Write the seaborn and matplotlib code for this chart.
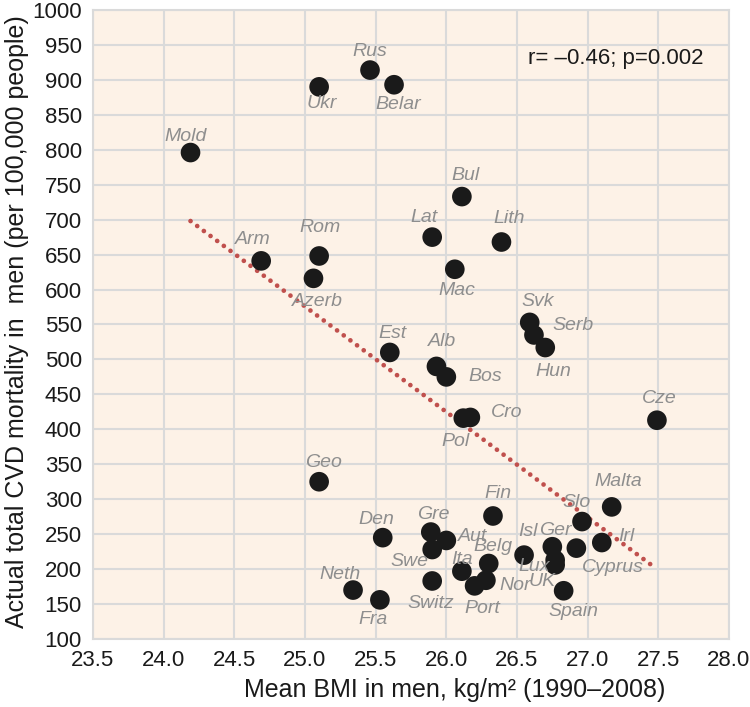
import seaborn as sns
import matplotlib.pyplot as plt
import pandas as pd

# countries, mean BMI in men and total CVD mortality (per 100,000)
countries = ["Mold", "Arm", "Azerb", "Rom", "Ukr", "Geo", "Rus", "Belar",
             "Neth", "Fra", "Den", "Est", "Gre", "Swe", "Switz", "Lat",
             "Alb", "Aut", "Bos", "Mac", "Ita", "Bul", "Pol", "Cro", "Port",
             "Nor", "Belg", "Fin", "Lith", "Isl", "Svk", "Serb", "Hun",
             "Ger", "Lux", "UK", "Spain", "Cyprus", "Slo", "Irl", "Malta",
             "Cze"]
bmi = [24.19, 24.69, 25.06, 25.10, 25.10, 25.10, 25.46, 25.63,
       25.34, 25.53, 25.55, 25.60, 25.89, 25.90, 25.90, 25.90,
       25.93, 26.00, 26.00, 26.06, 26.11, 26.11, 26.12, 26.17, 26.20,
       26.28, 26.30, 26.33, 26.39, 26.55, 26.59, 26.62, 26.70,
       26.75, 26.77, 26.77, 26.83, 26.92, 26.96, 27.10, 27.17,
       27.49]
cvd = [796, 641, 616, 648, 890, 325, 914, 893,
       170, 156, 245, 510, 253, 228, 183, 675,
       490, 241, 475, 629, 197, 733, 416, 417, 176,
       184, 208, 276, 668, 220, 553, 535, 517,
       232, 213, 206, 169, 230, 268, 238, 289,
       413]

# regression line end points
trend_x = [24.19, 27.47]
trend_y = [698, 203]

df = pd.DataFrame({"country": countries, "bmi": bmi, "cvd": cvd})

# label offsets in pixels (dx, dy) relative to each point
offsets = {
    "Mold": (-5, 16), "Arm": (-8, 21), "Azerb": (4, -23), "Rom": (1, 28),
    "Ukr": (3, -17), "Geo": (4, 19), "Rus": (0, 19), "Belar": (4, -20),
    "Neth": (-13, 16), "Fra": (-7, -20), "Den": (-6, 18), "Est": (3, 19),
    "Gre": (2, 18), "Swe": (-23, -12), "Switz": (-1, -23), "Lat": (-8, 20),
    "Alb": (6, 25), "Aut": (26, 4), "Bos": (39, 0), "Mac": (2, -21),
    "Ita": (0, 12), "Bul": (4, 21), "Pol": (-8, -23), "Cro": (36, 5),
    "Port": (8, -23), "Nor": (29, -5), "Belg": (4, 17), "Fin": (5, 22),
    "Lith": (8, 24), "Isl": (4, 24), "Svk": (8, 21), "Serb": (39, 9),
    "Hun": (8, -24), "Ger": (3, 16), "Lux": (-21, -6), "UK": (-13, -17),
    "Spain": (10, -21), "Cyprus": (36, -19), "Slo": (-5, 19), "Irl": (25, 6),
    "Malta": (7, 25), "Cze": (2, 22),
}

sns.set_style("whitegrid", {"axes.facecolor": "#FDF2E7",
                            "grid.color": "#DADADA",
                            "axes.edgecolor": "#DADADA"})
plt.rcParams["font.family"] = ["Liberation Sans", "DejaVu Sans"]

fig = plt.figure(figsize=(7.5, 7.07), dpi=100)
ax = fig.add_axes([0.124, 0.0962, 0.848, 0.8897])

sns.lineplot(x=trend_x, y=trend_y, color="#C0504D", linewidth=3.4,
             linestyle=(0, (0.01, 1.75)), dash_capstyle="round", ax=ax,
             zorder=2)
sns.scatterplot(data=df, x="bmi", y="cvd", s=200, color="#1A1A1A",
                edgecolor="none", ax=ax, zorder=3)

for c, x, y in zip(countries, bmi, cvd):
    dx, dy = offsets[c]
    ax.annotate(c, (x, y), xytext=(dx, dy), textcoords="offset pixels",
                ha="center", va="center", fontsize=14, style="italic",
                color="#8E8E8E", zorder=4)

ax.text(26.578, 930, "r= \u20130.46; p=0.002", fontsize=16, ha="left",
        va="center", color="#1A1A1A")

ax.set_xlim(23.5, 28.0)
ax.set_ylim(100, 1000)
ax.set_xticks([23.5 + 0.5 * i for i in range(10)])
ax.set_yticks(range(100, 1001, 50))
ax.set_xticklabels([f"{23.5 + 0.5 * i:.1f}" for i in range(10)])
ax.tick_params(labelsize=16, colors="#1A1A1A", length=0, pad=8)
for sp in ax.spines.values():
    sp.set_linewidth(1.5)
ax.grid(linewidth=1.5)

ax.set_xlabel("Mean BMI in men, kg/m\u00b2 (1990\u20132008)", fontsize=18,
              color="#1A1A1A")
ax.set_ylabel("Actual total CVD mortality in  men (per 100,000 people)",
              fontsize=18, color="#1A1A1A")
ax.xaxis.set_label_coords(0.569, -0.062)
ax.yaxis.set_label_coords(-0.100, 0.505)

plt.savefig("out.png", dpi=100)
